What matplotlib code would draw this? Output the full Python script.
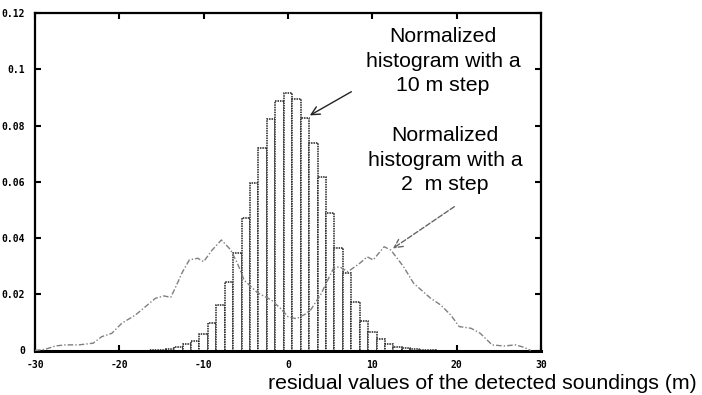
import matplotlib
matplotlib.use("Agg")
import matplotlib.pyplot as plt

# 10 m step histogram (bar centres and normalized heights)
bar_centers = list(range(-16, 18))
bar_heights = [0.0001, 0.0003, 0.0006, 0.0011, 0.0022, 0.0035, 0.0059, 0.0099,
               0.0162, 0.0244, 0.0346, 0.0470, 0.0597, 0.0719, 0.0822, 0.0888,
               0.0917, 0.0893, 0.0826, 0.0737, 0.0616, 0.0490, 0.0363, 0.0275,
               0.0174, 0.0106, 0.0065, 0.0040, 0.0022, 0.0014, 0.0009, 0.0005,
               0.0002, 0.0001]

# 2 m step histogram (curve)
line_x = [-30, -28.8, -27.6, -26.4, -24.8, -23.1, -22.1, -20.9, -19.7, -18.1,
          -16.9, -15.7, -14.7, -13.9, -13.3, -12.5, -11.7, -10.7, -10.0, -9.0,
          -7.9, -6.8, -6.0, -5.2, -3.6, -2.0, -0.9, 0.0, 1.0, 2.1, 2.7, 3.9,
          4.9, 5.4, 6.1, 7.1, 8.5, 9.4, 10.1, 11.4, 12.2, 13.7, 14.9, 16.9,
          18.1, 19.3, 20.3, 21.7, 22.8, 24.2, 25.6, 27.0, 28.0, 28.8]
line_y = [0.0, 0.0004, 0.0016, 0.0020, 0.0020, 0.0026, 0.0049, 0.0061, 0.0097, 0.0126,
          0.0156, 0.0186, 0.0194, 0.0189, 0.0227, 0.0280, 0.0322, 0.0328, 0.0316, 0.0357,
          0.0393, 0.0358, 0.0310, 0.0250, 0.0205, 0.0180, 0.0150, 0.0120, 0.0113, 0.0130,
          0.0145, 0.0200, 0.0262, 0.0292, 0.0298, 0.0280, 0.0310, 0.0333, 0.0322, 0.0369,
          0.0357, 0.0298, 0.0239, 0.0186, 0.0162, 0.0126, 0.0085, 0.0079, 0.0061, 0.0020,
          0.0016, 0.0020, 0.0011, 0.0]

x_ticks = [-30, -20, -10, 0, 10, 20, 30]
x_tick_labels = ["-30", "-20", "-10", "0", "10", "20", "30"]
y_ticks = [0, 0.02, 0.04, 0.06, 0.08, 0.1, 0.12]
y_tick_labels = ["0", "0.02", "0.04", "0.06", "0.08", "0.1", "0.12"]

label_10m = "Normalized\nhistogram with a\n10 m step"
label_2m = "Normalized\nhistogram with a\n2  m step"
xlabel = "residual values of the detected soundings (m)"

W, H = 702, 395
fig = plt.figure(figsize=(W / 100, H / 100), dpi=100)
ax = fig.add_axes([35 / W, (H - 350.5) / H, (541 - 35) / W, (350.5 - 13) / H])

ax.bar(bar_centers, bar_heights, width=1.0, color="white",
       edgecolor="#222222", linewidth=1.1, linestyle=(0, (1, 0.6)), zorder=2)
ax.plot(line_x, line_y, color="#808080", linewidth=1.0,
        linestyle=(0, (4, 1.5, 1, 1.5)), zorder=3)

ax.set_xlim(-30, 30)
ax.set_ylim(0, 0.12)
ax.set_xticks(x_ticks)
ax.set_xticklabels(x_tick_labels)
ax.set_yticks(y_ticks)
ax.set_yticklabels(y_tick_labels)
ax.tick_params(direction="in", length=4, width=1.5, top=True, right=True,
               labelsize=7, pad=7)
for lab in ax.get_xticklabels() + ax.get_yticklabels():
    lab.set_family("DejaVu Sans Mono")
    lab.set_fontweight("bold")
for sp in ax.spines.values():
    sp.set_linewidth(1.6)
ax.spines["bottom"].set_linewidth(2.2)

# arrows
ax.annotate("", xy=(2.3, 0.0831), xytext=(7.8, 0.0925),
            arrowprops=dict(arrowstyle="->,head_length=0.6,head_width=0.3",
                            color="#222222", lw=1.0), zorder=5)
ax.annotate("", xy=(12.15, 0.0357), xytext=(20.0, 0.0517),
            arrowprops=dict(arrowstyle="->,head_length=0.6,head_width=0.3",
                            color="#666666", lw=1.0, linestyle="--"), zorder=5)

font = ["Liberation Sans", "DejaVu Sans"]
fig.text(443 / W, (H - 27) / H, label_10m, ha="center", va="top",
         fontsize=15.3, family=font, linespacing=1.38)
fig.text(445 / W, (H - 126) / H, label_2m, ha="center", va="top",
         fontsize=15.3, family=font, linespacing=1.38)
fig.text(697 / W, (H - 393) / H, xlabel, ha="right", va="bottom",
         fontsize=15.3, family=font)

fig.savefig("out.png", dpi=100)
